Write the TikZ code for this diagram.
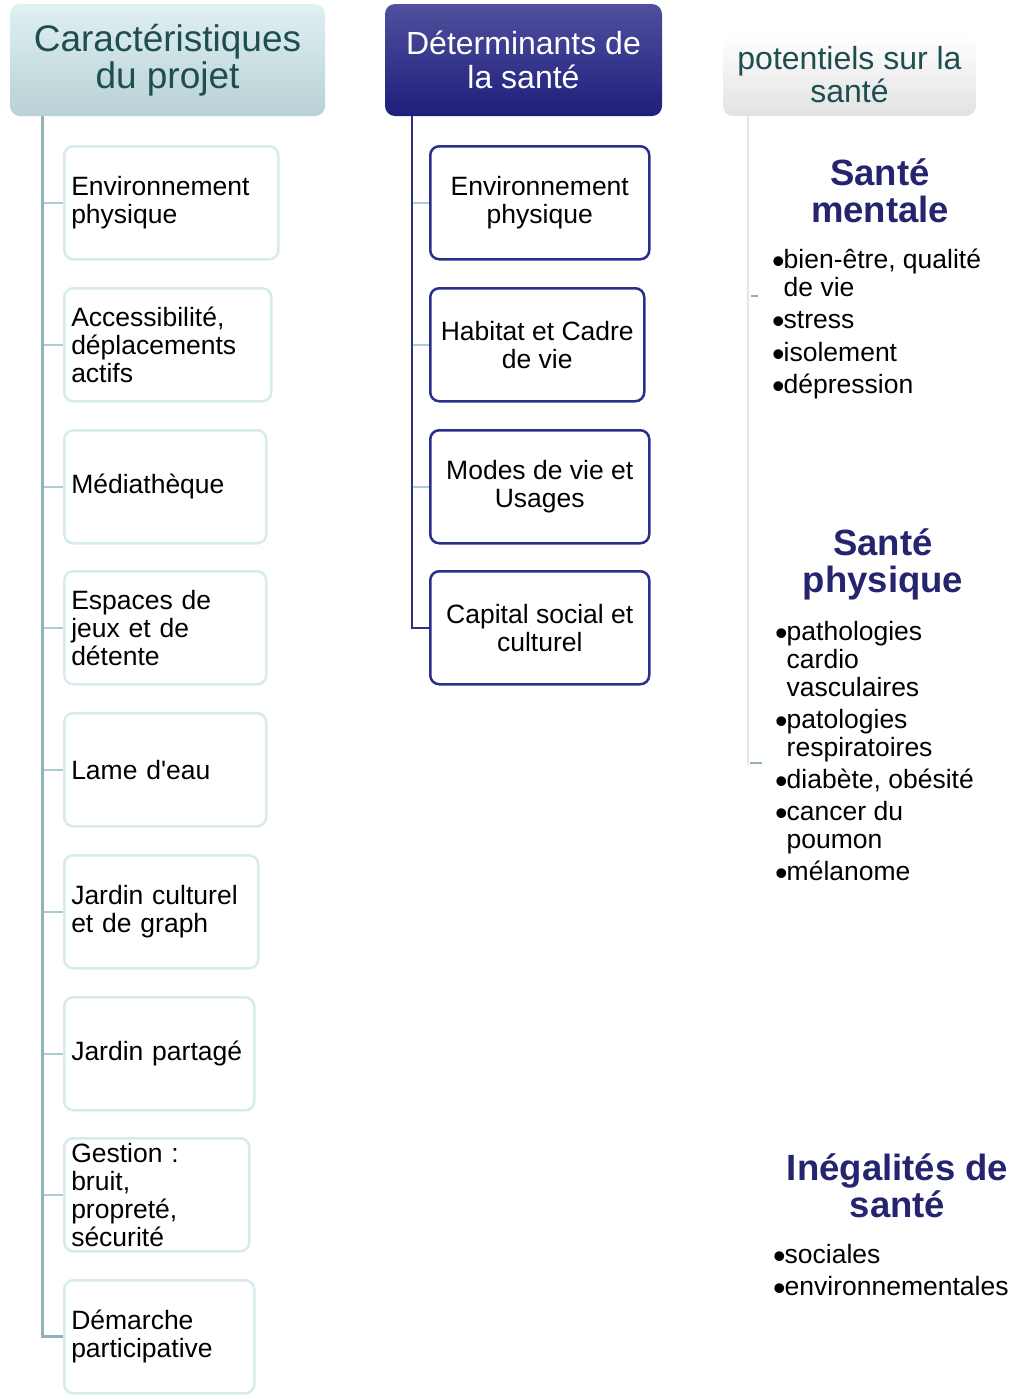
\documentclass[tikz,border=0pt]{standalone}
\usepackage{fontspec}
\setmainfont{Liberation Sans}
\definecolor{tealtxt}{HTML}{1F4E50}
\definecolor{lhA}{HTML}{E0F0F3}
\definecolor{lhB}{HTML}{B8D1D4}
\definecolor{mhA}{HTML}{50509E}
\definecolor{mhB}{HTML}{1E1E7C}
\definecolor{rhB}{HTML}{E2E2E2}
\definecolor{lboxc}{HTML}{D7EBEE}
\definecolor{lvertc}{HTML}{93B2B7}
\definecolor{ltickc}{HTML}{AECBCF}
\definecolor{navyc}{HTML}{2C2E8C}
\definecolor{mvertc}{HTML}{2F2F86}
\definecolor{rvertc}{HTML}{DFE8EA}
\definecolor{rtitc}{HTML}{24246F}
\newcommand{\bul}{\makebox[11.5pt][l]{\smash{\raisebox{-5pt}{\scalebox{1.35}{\textbullet}}}}}
\tikzset{
  hdr/.style={rounded corners=10pt, inner sep=0pt, align=center},
  lbox/.style={draw=lboxc, line width=2.5pt, rounded corners=9pt, fill=white,
    minimum height=113pt, inner xsep=7pt, inner ysep=0pt, align=left,
    font=\fontsize{26.5}{28}\selectfont, anchor=north west},
  mbox/.style={draw=navyc, line width=2.5pt, rounded corners=9pt, fill=white,
    minimum height=113pt, inner xsep=5pt, inner ysep=0pt, align=center,
    font=\fontsize{26.5}{28}\selectfont, anchor=north west},
  lvert/.style={draw=lvertc, line width=3pt},
  ltick/.style={draw=ltickc, line width=2.5pt},
  mvert/.style={draw=mvertc, line width=2.5pt},
  mtick/.style={draw=ltickc, line width=2.5pt},
  rvert/.style={draw=rvertc, line width=2pt},
  rtick/.style={draw=lvertc, line width=2pt},
  rtitle/.style={text=rtitc, inner sep=0pt, anchor=base,
    font=\fontsize{36.5}{37}\selectfont\bfseries},
  rlist/.style={inner sep=0pt, anchor=base west,
    font=\fontsize{26.5}{28}\selectfont},
}
\begin{document}
\begin{tikzpicture}[x=1pt,y=-1pt]
\useasboundingbox (0,0) rectangle (1022,1398);

% headers
\node[hdr, top color=lhA, bottom color=lhB, text=tealtxt, minimum width=315pt,
  minimum height=112pt, font=\fontsize{37}{37}\selectfont] (lh) at (167.5,60)
  {Caractéristiques\\du projet};
\node[hdr, top color=mhA, bottom color=mhB, text=white, minimum width=277pt,
  minimum height=112pt, font=\fontsize{32}{33.5}\selectfont] (mh) at (523.5,60)
  {Déterminants de\\la santé};
\node[hdr, top color=white, bottom color=rhB, text=tealtxt, minimum width=253pt,
  minimum height=82pt, font=\fontsize{32}{33}\selectfont] (rh) at (849.5,75)
  {potentiels sur la\\santé};

% left column boxes
\node[lbox, text width=200pt] (l1) at (63,145) {Environnement\\physique};
\node[lbox, text width=193pt] (l2) at (63,287) {Accessibilité,\\déplacements\\actifs};
\node[lbox, text width=188pt] (l3) at (63,429) {Médiathèque};
\node[lbox, text width=188pt] (l4) at (63,570) {Espaces de\\jeux et de\\détente};
\node[lbox, text width=188pt] (l5) at (63,712) {Lame d\textquotesingle eau};
\node[lbox, text width=180pt] (l6) at (63,854) {Jardin culturel\\et de graph};
\node[lbox, text width=176pt] (l7) at (63,996) {Jardin partagé};
\node[lbox, text width=171pt] (l8) at (63,1137) {Gestion :\\bruit,\\propreté,\\sécurité};
\node[lbox, text width=176pt] (l9) at (63,1279) {Démarche\\participative};

% middle column boxes
\node[mbox, minimum width=219pt] (m1) at (429,145) {Environnement\\physique};
\node[mbox, minimum width=214pt] (m2) at (429,287) {Habitat et Cadre\\de vie};
\node[mbox, minimum width=219pt] (m3) at (429,429) {Modes de vie et\\Usages};
\node[mbox, minimum width=219pt] (m4) at (429,570) {Capital social et\\culturel};

% left connectors
\coordinate (lt) at (42,116);
\foreach \i in {1,...,8} \draw[ltick] (lt |- l\i.west) -- (l\i.west);
\draw[lvert] (lt) |- (l9.west);

% middle connectors
\coordinate (mt) at (412,116);
\foreach \i in {1,2,3} \draw[mtick] (mt |- m\i.west) -- (m\i.west);
\draw[mvert] (mt) |- (m4.west);

% right connectors
\coordinate (rt) at (748,116);
\coordinate (rb) at (748,765);
\draw[rvert] (rt) -- (rb);
\coordinate (ra1) at (751,296);
\coordinate (rb1) at (758,296);
\coordinate (ra2) at (750,763);
\coordinate (rb2) at (762,763);
\draw[rtick] (ra1) -- (rb1);
\draw[rtick] (ra2) -- (rb2);

% right column texts
\node[rtitle] (smt) at (880,185) {\begin{tabular}[t]{@{}c@{}}Santé\\mentale\end{tabular}};
\node[rlist] (sml) at (772,268) {\begin{tabular}[t]{@{}l@{}l@{}}
\bul & bien-être, qualité\\
 & de vie\\[4.5pt]
\bul & stress\\[4.5pt]
\bul & isolement\\[4.5pt]
\bul & dépression
\end{tabular}};

\node[rtitle] (spt) at (883,555) {\begin{tabular}[t]{@{}c@{}}Santé\\physique\end{tabular}};
\node[rlist] (spl) at (775,640) {\begin{tabular}[t]{@{}l@{}l@{}}
\bul & pathologies\\
 & cardio\\
 & vasculaires\\[4pt]
\bul & patologies\\
 & respiratoires\\[4pt]
\bul & diabète, obésité\\[4pt]
\bul & cancer du\\
 & poumon\\[4pt]
\bul & mélanome
\end{tabular}};

\node[rtitle] (igt) at (897.5,1180) {\begin{tabular}[t]{@{}c@{}}Inégalités de\\santé\end{tabular}};
\node[rlist] (igl) at (773,1263) {\begin{tabular}[t]{@{}l@{}l@{}}
\bul & sociales\\[4.5pt]
\bul & environnementales
\end{tabular}};
\end{tikzpicture}
\end{document}
